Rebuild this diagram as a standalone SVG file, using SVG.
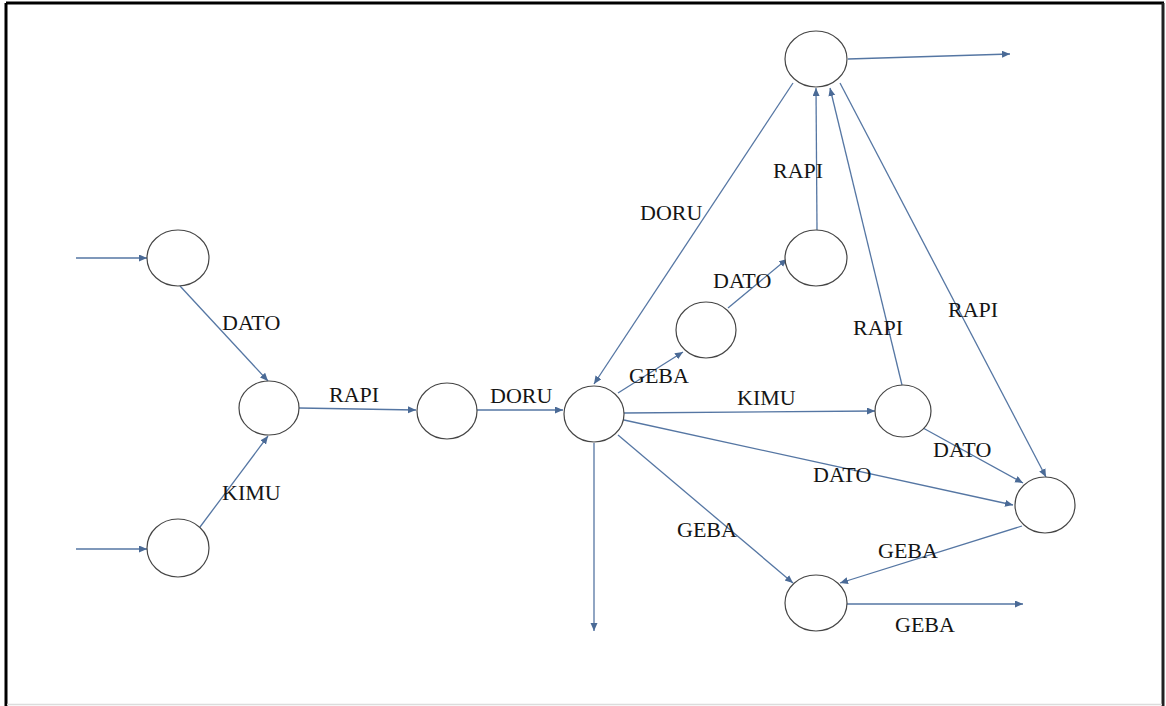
<svg xmlns="http://www.w3.org/2000/svg" width="1166" height="706" viewBox="0 0 1166 706">
<style>
.n{fill:#fff;stroke:#454545;stroke-width:1.2}
.e{fill:none;stroke:#5576a3;stroke-width:1.3;marker-end:url(#ah)}
.t{font-family:"Liberation Serif","Times New Roman",serif;font-size:22px;fill:#151515}
</style>
<defs>
<marker id="ah" markerUnits="userSpaceOnUse" markerWidth="9" markerHeight="8" refX="8" refY="3.5" orient="auto">
<path d="M0,0 L8,3.5 L0,7 z" fill="#4a6a96"/>
</marker>
</defs>
<rect x="0" y="0" width="1166" height="706" fill="#fff"/>
<g id="frame">
<line x1="6" y1="3" x2="1164" y2="3" stroke="#000" stroke-width="3"/>
<line x1="6" y1="3" x2="6" y2="706" stroke="#000" stroke-width="3"/>
<line x1="1163" y1="3" x2="1163" y2="706" stroke="#222" stroke-width="3"/>
<line x1="7" y1="704.5" x2="1162" y2="704.5" stroke="#dcdcdc" stroke-width="1.5"/>
</g>
<g id="connectors">
<path class="e" d="M76,258 L147,258"/>
<path class="e" d="M76,549 L147,549"/>
<path class="e" d="M180,286 L268,381"/>
<path class="e" d="M200,527 L268,436"/>
<path class="e" d="M299,408 L416,410"/>
<path class="e" d="M477,410 L563,410"/>
<path class="e" d="M618,393 L683,352"/>
<path class="e" d="M728,308 L787,259"/>
<path class="e" d="M817,230 L816,88"/>
<path class="e" d="M793,83 L594,384"/>
<path class="e" d="M848,59 L1010,54"/>
<path class="e" d="M902,385 L830,88"/>
<path class="e" d="M840,83 L1046,477"/>
<path class="e" d="M624,413 L875,411"/>
<path class="e" d="M624,420 L1013,505"/>
<path class="e" d="M923,428 L1023,483"/>
<path class="e" d="M618,435 L793,583"/>
<path class="e" d="M1022,526 L840,583"/>
<path class="e" d="M847,604 L1023,604"/>
<path class="e" d="M594,443 L594,631"/>
</g>
<g id="A"><ellipse class="n" cx="178" cy="258" rx="31" ry="28"/></g>
<g id="B"><ellipse class="n" cx="269" cy="408" rx="30" ry="27"/></g>
<g id="C"><ellipse class="n" cx="178" cy="548" rx="31" ry="29"/></g>
<g id="D"><ellipse class="n" cx="447" cy="411" rx="30" ry="28"/></g>
<g id="E"><ellipse class="n" cx="594" cy="414" rx="30" ry="28"/></g>
<g id="F"><ellipse class="n" cx="816" cy="59" rx="31" ry="28"/></g>
<g id="G"><ellipse class="n" cx="816" cy="258" rx="31" ry="28"/></g>
<g id="H"><ellipse class="n" cx="706" cy="330" rx="30" ry="28"/></g>
<g id="I"><ellipse class="n" cx="903" cy="411" rx="28" ry="26"/></g>
<g id="J"><ellipse class="n" cx="1045" cy="505" rx="30" ry="28"/></g>
<g id="K"><ellipse class="n" cx="816" cy="603" rx="31" ry="28"/></g>
<g id="labels">
<text class="t" x="222" y="330">DATO</text>
<text class="t" x="222" y="500">KIMU</text>
<text class="t" x="329" y="402">RAPI</text>
<text class="t" x="490" y="403">DORU</text>
<text class="t" x="629" y="383">GEBA</text>
<text class="t" x="713" y="288">DATO</text>
<text class="t" x="773" y="178">RAPI</text>
<text class="t" x="640" y="220">DORU</text>
<text class="t" x="853" y="335">RAPI</text>
<text class="t" x="948" y="317">RAPI</text>
<text class="t" x="737" y="405">KIMU</text>
<text class="t" x="813" y="482">DATO</text>
<text class="t" x="933" y="457">DATO</text>
<text class="t" x="677" y="537">GEBA</text>
<text class="t" x="878" y="558">GEBA</text>
<text class="t" x="895" y="632">GEBA</text>
</g>
</svg>
